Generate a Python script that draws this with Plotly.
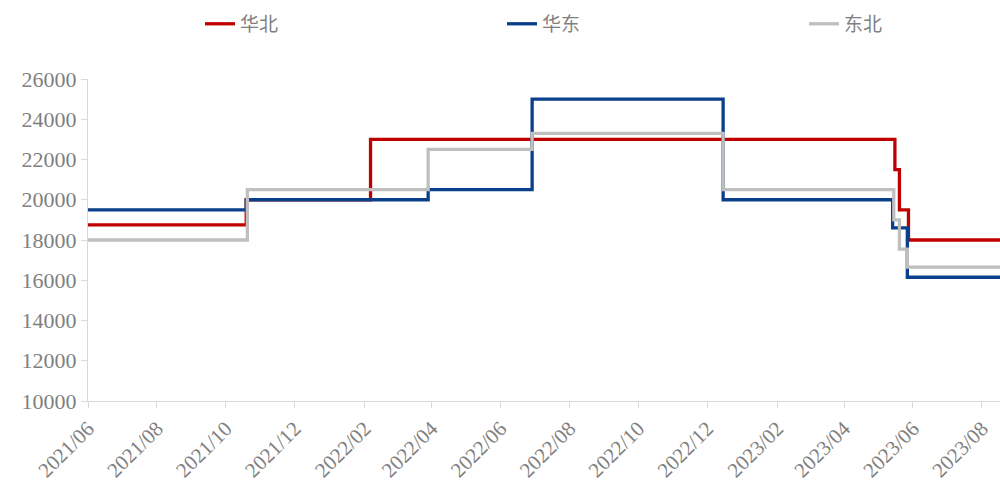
import plotly.graph_objects as go

end_date = "2023-08-17"

north_dates = ["2021-06-01", "2021-10-19", "2022-02-06", "2023-05-16", "2023-05-20", "2023-05-28", end_date]
north_vals = [18750, 20000, 23000, 21500, 19500, 18000, 18000]

east_dates = ["2021-06-01", "2021-10-19", "2022-03-29", "2022-06-29", "2022-12-15", "2023-05-14", "2023-05-27", end_date]
east_vals = [19500, 20000, 20500, 25000, 20000, 18600, 16150, 16150]

ne_dates = ["2021-06-01", "2021-10-20", "2022-03-29", "2022-06-29", "2022-12-15", "2023-05-15", "2023-05-20", "2023-05-27", end_date]
ne_vals = [18000, 20500, 22500, 23300, 20500, 19000, 17550, 16650, 16650]

tick_vals = ["2021-06-01", "2021-08-01", "2021-10-01", "2021-12-01", "2022-02-01", "2022-04-01",
             "2022-06-01", "2022-08-01", "2022-10-01", "2022-12-01", "2023-02-01", "2023-04-01",
             "2023-06-01", "2023-08-01"]
tick_text = [d[:4] + "/" + d[5:7] for d in tick_vals]

fig = go.Figure()
fig.add_trace(go.Scatter(x=north_dates, y=north_vals, name="华北", mode="lines",
                         line=dict(color="#C00000", width=3.3, shape="hv")))
fig.add_trace(go.Scatter(x=east_dates, y=east_vals, name="华东", mode="lines",
                         line=dict(color="#0A3F8C", width=3.3, shape="hv")))
fig.add_trace(go.Scatter(x=ne_dates, y=ne_vals, name="东北", mode="lines",
                         line=dict(color="#BFBFBF", width=3.3, shape="hv")))

fig.update_layout(
    width=1000, height=492,
    margin=dict(l=88, r=0, t=79, b=91),
    plot_bgcolor="white", paper_bgcolor="white",
    showlegend=True,
    legend=dict(orientation="h", xref="container", yref="container", x=0.2, y=0.99,
                xanchor="left", yanchor="top", entrywidth=257,
                font=dict(family="Noto Sans CJK SC", size=19, color="#7F7F7F")),
    xaxis=dict(type="date", range=["2021-06-01", end_date], tickvals=tick_vals, ticktext=tick_text,
               tickangle=-45, showgrid=False, showline=True, linecolor="#D9D9D9", linewidth=1,
               ticks="outside", ticklen=6, tickcolor="#D9D9D9",
               tickfont=dict(family="Liberation Serif", size=21, color="#7F7F7F"), zeroline=False),
    yaxis=dict(range=[10000, 26000], dtick=2000, tickformat="d", showgrid=False, showline=True,
               linecolor="#D9D9D9", linewidth=1, ticks="outside", ticklen=6, tickcolor="#D9D9D9",
               tickfont=dict(family="Liberation Serif", size=22, color="#7F7F7F"), zeroline=False),
)

fig.write_html("out.html")
